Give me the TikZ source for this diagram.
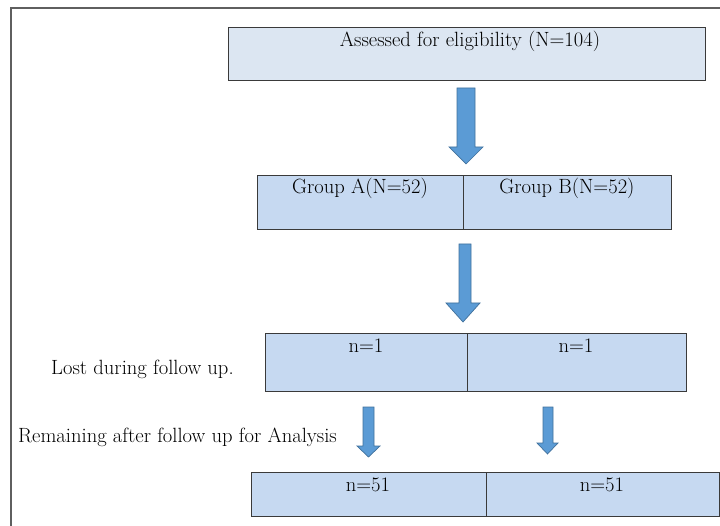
\documentclass[tikz,border=0pt]{standalone}
\usepackage{fontspec}
\begin{document}
\begin{tikzpicture}[x=1pt,y=-1pt,
  cell/.style={draw=boxline,line width=0.9pt,inner sep=0pt,anchor=north west},
  topfill/.style={fill=lightblue},
  grpfill/.style={fill=midblue},
  txt/.style={font=\fontsize{20.6}{24}\selectfont,inner sep=0pt,text=black},
  barrow/.style={fill=arrowfill,draw=arrowline,line width=0.7pt,line join=miter}]
\definecolor{boxline}{HTML}{3A3A3A}
\definecolor{lightblue}{HTML}{DCE6F2}
\definecolor{midblue}{HTML}{C6D9F1}
\definecolor{arrowfill}{HTML}{5B9BD5}
\definecolor{arrowline}{HTML}{41719C}
\definecolor{framegray}{HTML}{5F5F5F}
\useasboundingbox (0,0) rectangle (720,526);
\clip (0,0) rectangle (720,526);
\fill[white] (0,0) rectangle (720,526);
% outer frame
\draw[framegray,line width=2.4pt] (11,540) -- (11,8) -- (740,8);
% top box
\node[cell,topfill,minimum width=477pt,minimum height=53pt] (top) at (228,27) {};
\node[txt] (toptxt) at (470,41) {Assessed for eligibility (N=104)};
% group boxes
\node[cell,grpfill,minimum width=206pt,minimum height=54pt] (ga) at (257,175) {};
\node[cell,grpfill,minimum width=208pt,minimum height=54pt] (gb) at (463,175) {};
\node[txt] (gatxt) at (360,188) {Group A(N=52)};
\node[txt] (gbtxt) at (567,188) {Group B(N=52)};
% lost boxes
\node[cell,grpfill,minimum width=202pt,minimum height=58pt] (la) at (265,333) {};
\node[cell,grpfill,minimum width=219pt,minimum height=58pt] (lb) at (467,333) {};
\node[txt] (latxt) at (366,346) {n=1};
\node[txt] (lbtxt) at (576,346) {n=1};
% final boxes
\node[cell,grpfill,minimum width=235pt,minimum height=44pt] (fa) at (251,472) {};
\node[cell,grpfill,minimum width=233pt,minimum height=44pt] (fb) at (486,472) {};
\node[txt] (fatxt) at (368,485) {n=51};
\node[txt] (fbtxt) at (602,485) {n=51};
% side labels
\node[txt,anchor=west] (lost) at (51,369) {Lost during follow up.};
\node[txt,anchor=west] (remain) at (18,437) {Remaining after follow up for Analysis};
% block arrows
\draw[barrow] (457,88) -- (475,88) -- (475,147) -- (483,147) -- (466,164) -- (449,147) -- (457,147) -- cycle;
\draw[barrow] (459,244) -- (471,244) -- (471,303) -- (480,303) -- (463,322) -- (446,303) -- (459,303) -- cycle;
\draw[barrow] (363,407) -- (374,407) -- (374,446) -- (380,446) -- (368.5,457) -- (357,446) -- (363,446) -- cycle;
\draw[barrow] (543,407) -- (553,407) -- (553,443) -- (558,443) -- (547.5,454) -- (537,443) -- (543,443) -- cycle;
\end{tikzpicture}
\end{document}
